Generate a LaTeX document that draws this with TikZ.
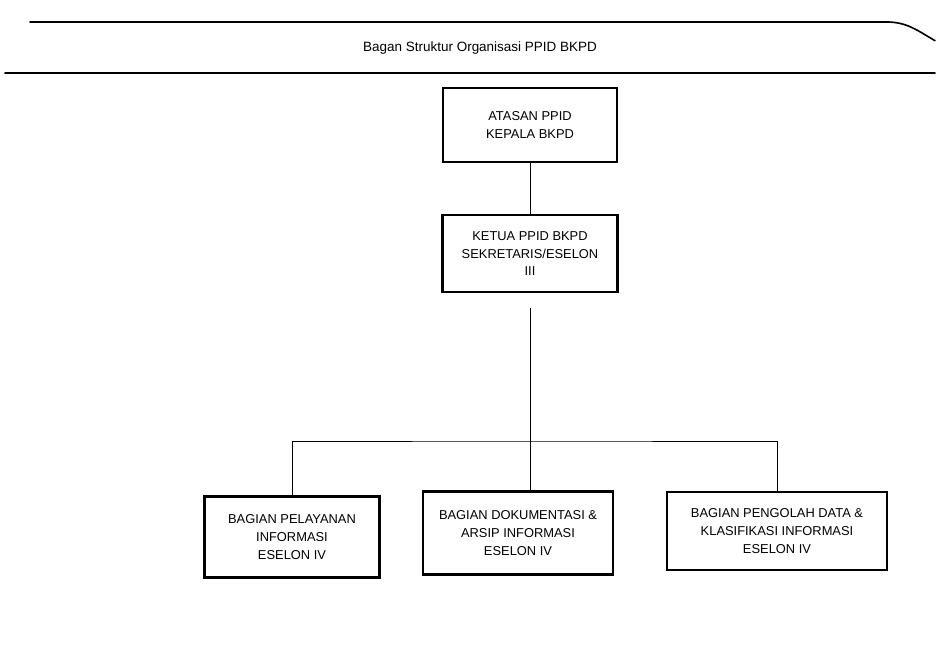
\documentclass[tikz,border=0pt]{standalone}
\usepackage{fontspec}
\setmainfont{Liberation Sans}
\usetikzlibrary{positioning}
\tikzset{
  unit/.style={draw,rectangle,line width=1.8pt,align=center,inner sep=2pt,
    font=\fontsize{11}{15}\selectfont},
  link/.style={line width=0.7pt},
  frame/.style={line width=1.4pt,line cap=round}
}
\begin{document}
\begin{tikzpicture}
  \useasboundingbox (0,0) rectangle (28.17,20.07);
  % header band
  \draw[frame] (0.9,19.41) -- (26.6,19.41) to[out=0,in=150] (28.05,18.85);
  \draw[frame] (0.15,17.88) -- (28.05,17.88);
  \node (title) at (14.4,18.63) {\fontsize{11.5}{13}\selectfont Bagan Struktur Organisasi PPID BKPD};
  % chart
  \node[unit,minimum width=5.22cm,minimum height=2.22cm] (atasan) at (15.9,16.32) {ATASAN PPID\\KEPALA BKPD};
  \node[unit,minimum width=5.25cm,minimum height=2.31cm,below=1.53cm of atasan] (ketua) {KETUA PPID BKPD\\SEKRETARIS/ESELON\\III};
  \node[unit,minimum width=5.25cm,minimum height=2.43cm] (pelayanan) at (8.76,3.96) {BAGIAN PELAYANAN\\INFORMASI\\ESELON IV};
  \node[unit,minimum width=5.7cm,minimum height=2.49cm] (dokumentasi) at (15.54,4.08) {BAGIAN DOKUMENTASI \&\\ARSIP INFORMASI\\ESELON IV};
  \node[unit,minimum width=6.6cm,minimum height=2.34cm] (pengolah) at (23.31,4.14) {BAGIAN PENGOLAH DATA \&\\KLASIFIKASI INFORMASI\\ESELON IV};
  \coordinate[below=0.45cm of ketua] (stem);
  \coordinate (bar) at (15.9,6.84);
  \draw[link] (atasan) -- (ketua);
  \draw[link] (stem) -- (bar);
  \draw[link] (pelayanan.north) |- (bar) -| (pengolah.north);
  \draw[link] (bar) -- (bar |- dokumentasi.north);
\end{tikzpicture}
\end{document}
